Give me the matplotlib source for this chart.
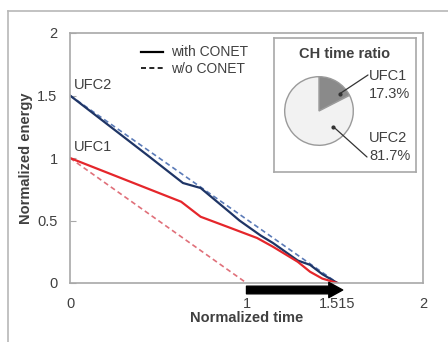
import numpy as np
import matplotlib.pyplot as plt
from matplotlib.lines import Line2D

plt.rcParams['font.family'] = ['Liberation Sans', 'DejaVu Sans']

# Data
ufc2_with_x = [0, 0.45, 0.64, 0.74, 0.91, 0.96, 1.08, 1.15, 1.29, 1.36, 1.43, 1.515]
ufc2_with_y = [1.5, 1.01, 0.80, 0.76, 0.56, 0.50, 0.38, 0.32, 0.18, 0.145, 0.07, 0.0]
ufc2_wo_x = [0, 1.515]
ufc2_wo_y = [1.5, 0.0]
ufc1_with_x = [0, 0.45, 0.63, 0.74, 0.91, 1.06, 1.15, 1.29, 1.36, 1.43, 1.515]
ufc1_with_y = [1.0, 0.75, 0.65, 0.53, 0.44, 0.36, 0.29, 0.17, 0.09, 0.035, 0.0]
ufc1_wo_x = [0, 1.0]
ufc1_wo_y = [1.0, 0.0]

xticks = [0, 1, 1.515, 2]
xtick_labels = ['0', '1', '1.515', '2']
yticks = [0, 0.5, 1, 1.5, 2]
ytick_labels = ['0', '0.5', '1', '1.5', '2']

pie_labels = ['UFC1', 'UFC2']
pie_values = [17.3, 81.7]
pie_colors = ['#8a8a8a', '#f2f2f2']

text_col = '#404040'
spine_col = '#a8a8a8'
fs = 10.5

fig = plt.figure(figsize=(4.48, 3.42), dpi=100)

# outer frame (top and left edges only visible)
fig.add_artist(Line2D([8/448, 1], [1 - 11/342, 1 - 11/342], color='#b8b8b8', lw=1.2))
fig.add_artist(Line2D([8/448, 8/448], [0, 1 - 11/342], color='#b8b8b8', lw=1.2))

ax = fig.add_axes([70/448, 59/342, 353/448, 250/342])
ax.plot(ufc2_wo_x, ufc2_wo_y, color='#5b7bb8', lw=1.2, ls=(0, (3, 2)))
ax.plot(ufc2_with_x, ufc2_with_y, color='#1f3566', lw=1.6)
ax.plot(ufc1_wo_x, ufc1_wo_y, color='#e0707a', lw=1.2, ls=(0, (3, 2)))
ax.plot(ufc1_with_x, ufc1_with_y, color='#e5262b', lw=1.6)

ax.set_xlim(0, 2)
ax.set_ylim(0, 2)
ax.set_xticks(xticks)
ax.set_xticklabels(xtick_labels)
ax.set_yticks(yticks)
ax.set_yticklabels(ytick_labels)
ax.tick_params(axis='x', length=0, pad=10, labelsize=fs, labelcolor=text_col)
ax.tick_params(axis='y', direction='in', length=4, color=spine_col, pad=9,
               labelsize=fs, labelcolor=text_col)
for s in ax.spines.values():
    s.set_color(spine_col)
    s.set_linewidth(1.2)

ax.set_xlabel('Normalized time', fontsize=fs, fontweight='bold', color=text_col, labelpad=0)
ax.set_ylabel('Normalized energy', fontsize=fs, fontweight='bold', color=text_col, labelpad=3)

ax.text(0.02, 1.53, 'UFC2', fontsize=fs, color=text_col, va='bottom')
ax.text(0.02, 1.03, 'UFC1', fontsize=fs, color=text_col, va='bottom')

# arrow below the axis from 1 to 1.515
ax.annotate('', xy=(1.545, -0.056), xytext=(1.0, -0.056),
            arrowprops=dict(arrowstyle='simple,head_width=1.1,head_length=1.0,tail_width=0.55',
                            color='black', shrinkA=0, shrinkB=0),
            annotation_clip=False)

handles = [Line2D([], [], color='black', lw=1.6),
           Line2D([], [], color='black', lw=1.2, ls=(0, (3, 2)))]
ax.legend(handles, ['with CONET', 'w/o CONET'], loc='upper left',
          bbox_to_anchor=(0.165, 1.0), frameon=False, fontsize=10,
          handlelength=1.6, handletextpad=0.6, labelspacing=0.15,
          labelcolor=text_col)

# inset box with pie
box = fig.add_axes([274/448, 170/342, 142/448, 134/342])
box.set_xticks([])
box.set_yticks([])
for s in box.spines.values():
    s.set_color(spine_col)
    s.set_linewidth(1.2)
box.text(0.5, 0.88, 'CH time ratio', ha='center', va='center', fontsize=fs,
         fontweight='bold', color=text_col, transform=box.transAxes)

pax = fig.add_axes([284/448, 196/342, 70/448, 70/342])
pax.pie(pie_values, colors=pie_colors, startangle=90, counterclock=False,
        wedgeprops=dict(edgecolor='#9a9a9a', linewidth=1.0))
pax.set_xlim(-1.02, 1.02)
pax.set_ylim(-1.02, 1.02)
pax.set_aspect('equal')

dots = [(0.6, 0.5), (0.42, -0.46)]
label_pos = [(369/448, 1 - 85/342), (369/448, 1 - 147/342)]
elbow = [(368/448, 1 - 75/342), (367/448, 1 - 157/342)]
for lab, val, d, lp, el in zip(pie_labels, pie_values, dots, label_pos, elbow):
    pax.plot(*d, 'o', color='#333333', ms=2)
    pax.annotate('', xy=d, xycoords='data', xytext=el, textcoords='figure fraction',
                 arrowprops=dict(arrowstyle='-', color='#333333', lw=0.9,
                                 shrinkA=0, shrinkB=0), annotation_clip=False)
    fig.text(lp[0], lp[1], f'{lab}\n{val}%', ha='left', va='center', fontsize=fs,
             color=text_col, linespacing=1.3)

plt.savefig('out.png', dpi=100)
